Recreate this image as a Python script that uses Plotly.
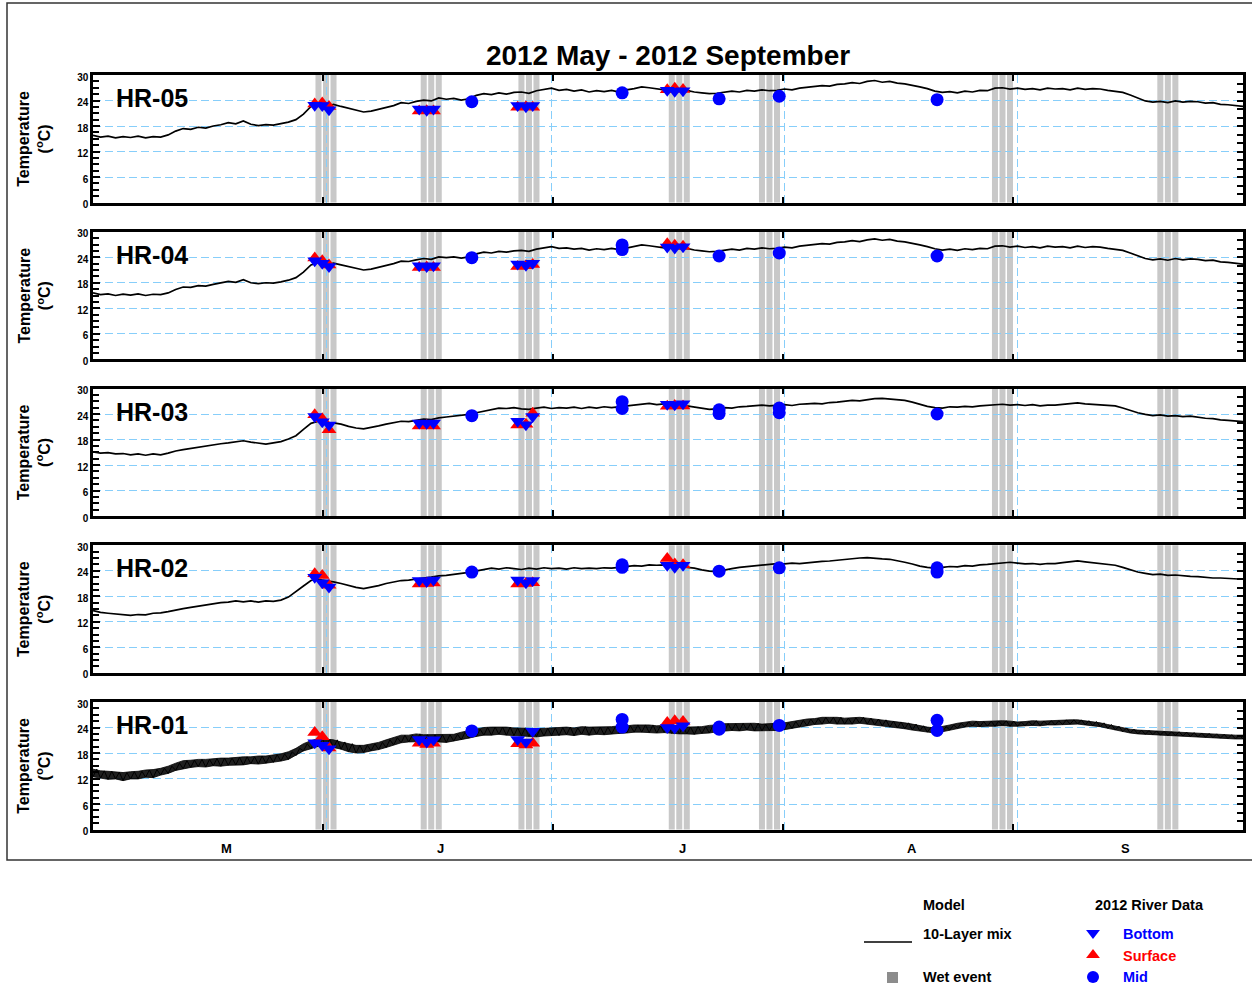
import plotly.graph_objects as go

FONT = "Liberation Sans, Arial, Helvetica, sans-serif"
W, H = 1252, 988

# ---------------------------------------------------------------------------
# Time axis: days since 2012-05-01 00:00 (1 May .. 30 Sep 2012 = 153 days)
# ---------------------------------------------------------------------------
model_days = list(range(154))

# 10-layer mix model, daily water temperature (degC)
hr05_model = [
    15.8, 15.4, 15.6, 15.2, 15.5, 15.3, 15.6, 15.2, 15.5, 15.4,
    15.9, 16.8, 17.4, 17.2, 17.7, 17.5, 18.0, 18.3, 18.8, 18.5,
    19.2, 18.4, 18.1, 18.3, 18.2, 18.5, 18.9, 19.5, 20.8, 22.6,
    23.0, 22.5, 23.1, 22.6, 22.2, 21.7, 21.3, 21.5, 21.9, 22.4,
    22.8, 23.5, 23.3, 23.8, 24.1, 23.9, 24.6, 24.3, 24.5, 24.1,
    24.4, 25.2, 25.6, 25.4, 25.8, 25.5, 25.9, 26.0, 25.7, 26.3,
    26.6, 26.9, 26.4, 26.6, 26.2, 26.5, 26.0, 26.3, 26.1, 26.4,
    26.0, 26.5, 26.8, 27.2, 27.0, 26.8, 26.5, 26.7, 26.3, 26.4,
    26.0, 25.8, 25.6, 25.7, 25.9, 26.2, 26.0, 26.4, 26.2, 26.5,
    26.3, 26.4, 26.7, 26.5, 26.9, 27.1, 27.3, 27.5, 27.4, 27.8,
    27.9, 28.2, 28.0, 28.5, 28.7, 28.3, 28.5, 28.1, 27.9, 27.6,
    27.2, 26.8, 26.2, 25.9, 26.1, 25.8, 26.2, 26.0, 26.4, 26.3,
    26.9, 27.0, 26.7, 26.9, 26.6, 26.8, 26.5, 26.9, 26.7, 26.8,
    26.5, 26.9, 26.6, 26.8, 26.7, 26.4, 26.2, 25.9, 25.3, 24.6,
    23.9, 23.6, 23.8, 23.5, 23.9, 23.6, 23.8, 23.7, 23.4, 23.5,
    23.1, 23.0, 22.8, 22.6,
]
hr04_model = [
    15.6, 15.2, 15.4, 15.0, 15.3, 15.1, 15.4, 15.0, 15.3, 15.2,
    15.6, 16.4, 17.0, 16.9, 17.3, 17.2, 17.6, 17.9, 18.3, 18.1,
    18.7, 18.0, 17.8, 18.0, 17.9, 18.2, 18.6, 19.2, 20.5, 22.2,
    22.7, 22.2, 22.6, 22.2, 21.8, 21.3, 21.0, 21.2, 21.6, 22.0,
    22.5, 23.1, 23.0, 23.4, 23.7, 23.5, 24.1, 23.9, 24.1, 23.8,
    24.1, 24.8, 25.2, 25.0, 25.4, 25.2, 25.5, 25.6, 25.4, 25.9,
    26.2, 26.5, 26.1, 26.2, 25.9, 26.1, 25.7, 26.0, 25.8, 26.1,
    25.8, 26.2, 26.5, 26.9, 26.7, 26.5, 26.2, 26.4, 26.0, 26.1,
    25.7, 25.5, 25.3, 25.4, 25.6, 25.9, 25.7, 26.1, 25.9, 26.2,
    26.0, 26.1, 26.4, 26.2, 26.6, 26.8, 27.0, 27.2, 27.1, 27.5,
    27.6, 27.9, 27.7, 28.1, 28.3, 28.0, 28.2, 27.8, 27.6, 27.3,
    26.9, 26.5, 26.0, 25.7, 25.9, 25.6, 26.0, 25.8, 26.1, 26.0,
    26.6, 26.7, 26.4, 26.6, 26.3, 26.5, 26.2, 26.6, 26.4, 26.5,
    26.2, 26.6, 26.3, 26.5, 26.4, 26.1, 25.9, 25.6, 25.0, 24.3,
    23.7, 23.4, 23.6, 23.3, 23.7, 23.4, 23.6, 23.5, 23.2, 23.3,
    22.9, 22.8, 22.6, 22.4,
]
hr03_model = [
    15.1, 14.8, 14.9, 14.6, 14.7, 14.4, 14.6, 14.3, 14.6, 14.4,
    14.8, 15.3, 15.6, 15.9, 16.1, 16.4, 16.7, 17.0, 17.2, 17.5,
    17.7, 17.4, 17.1, 16.9, 17.2, 17.5, 18.1, 18.9, 20.4, 21.8,
    22.3, 22.0, 21.9, 21.6, 21.1, 20.7, 20.5, 20.8, 21.2, 21.6,
    21.9, 22.3, 22.2, 22.5, 22.8, 22.7, 23.1, 23.3, 23.5, 23.7,
    23.9, 24.3, 24.7, 25.1, 25.4, 25.3, 25.5, 25.2, 25.1, 25.4,
    25.6, 25.3, 25.5, 25.4, 25.6, 25.3, 25.6, 25.4, 25.7, 25.5,
    25.7, 26.0, 26.2, 26.3, 26.5, 26.2, 26.4, 26.1, 26.3, 25.9,
    25.6, 25.3, 25.1, 25.2, 25.5, 25.4, 25.7, 25.8, 25.9, 26.1,
    25.9, 26.1, 26.2, 26.0, 26.3, 26.4, 26.5, 26.4, 26.7, 26.8,
    27.0, 27.2, 27.1, 27.4, 27.6, 27.7, 27.5, 27.4, 27.2, 26.8,
    26.3, 25.8, 25.5, 25.4, 25.7, 25.6, 25.8, 25.7, 25.9, 26.0,
    26.2, 26.3, 26.1, 26.2, 26.0, 26.2, 25.9, 26.1, 26.1, 26.3,
    26.4, 26.6, 26.4, 26.3, 26.2, 26.0, 25.9, 25.4, 24.8, 24.3,
    23.9, 23.6, 23.8, 23.5, 23.6, 23.4, 23.5, 23.2, 23.0, 22.9,
    22.6, 22.5, 22.3, 22.2,
]
hr02_model = [
    14.6, 14.2, 14.0, 13.8, 13.6, 13.5, 13.7, 13.6, 14.0, 14.1,
    14.4, 14.8, 15.1, 15.4, 15.7, 15.9, 16.2, 16.5, 16.6, 16.9,
    16.7, 16.9, 16.6, 16.9, 16.8, 17.1, 17.8, 19.0, 20.4, 21.7,
    22.0, 21.6, 21.4, 21.0, 20.5, 20.1, 19.8, 20.1, 20.5, 21.0,
    21.3, 21.7, 21.8, 22.1, 22.3, 22.5, 22.8, 22.9, 23.2, 23.4,
    23.6, 23.9, 24.3, 24.6, 24.4, 24.7, 24.5, 24.3, 24.6, 24.4,
    24.7, 24.5, 24.6, 24.4, 24.7, 24.5, 24.6, 24.5, 24.7, 24.6,
    24.8, 25.0, 25.2, 25.1, 25.4, 25.3, 25.4, 25.2, 25.0, 24.9,
    24.6, 24.2, 23.9, 23.8, 24.2, 24.5, 24.8, 25.0, 25.2, 25.4,
    25.5, 25.7, 25.6, 25.8, 25.7, 25.9, 26.0, 26.2, 26.3, 26.5,
    26.6, 26.8, 27.0, 27.1, 26.9, 26.8, 26.7, 26.4, 26.0, 25.6,
    25.1, 24.8, 24.6, 24.8, 25.0, 24.9, 25.2, 25.1, 25.4, 25.5,
    25.7, 25.8, 26.0, 25.8, 25.6, 25.7, 25.5, 25.7, 25.7, 25.9,
    26.1, 26.3, 26.1, 25.9, 25.7, 25.5, 25.3, 24.8, 24.2, 23.7,
    23.4, 23.1, 23.2, 22.9, 23.0, 22.8, 22.7, 22.6, 22.4, 22.3,
    22.3, 22.2, 22.1, 22.0,
]
# HR-01 fluctuates strongly within each day: daily low and high
hr01_model_low = [
    12.4, 12.1, 11.8, 11.9, 11.5, 11.9, 11.9, 12.3, 12.2, 12.8,
    13.2, 13.9, 14.3, 14.6, 14.8, 14.7, 15.0, 14.9, 15.1, 15.2,
    15.2, 15.5, 15.4, 15.6, 15.8, 16.1, 16.5, 17.4, 18.5, 19.0,
    19.6, 19.5, 19.3, 18.9, 18.3, 18.0, 18.1, 18.5, 18.8, 19.3,
    19.9, 20.4, 20.6, 20.6, 20.7, 20.5, 20.6, 20.5, 20.8, 21.1,
    21.5, 21.9, 22.2, 22.2, 22.4, 22.2, 22.1, 22.1, 21.9, 21.8,
    22.0, 22.1, 22.1, 22.3, 22.1, 22.4, 22.2, 22.4, 22.3, 22.5,
    22.6, 22.7, 22.9, 22.9, 22.8, 22.7, 22.8, 22.6, 22.5, 22.5,
    22.4, 22.6, 22.7, 23.0, 23.1, 23.3, 23.2, 23.4, 23.2, 23.2,
    23.3, 23.3, 23.5, 23.8, 24.1, 24.4, 24.7, 24.8, 25.0, 24.8,
    24.8, 24.8, 25.0, 24.8, 24.6, 24.4, 24.1, 23.9, 23.7, 23.4,
    23.2, 22.9, 22.7, 23.0, 23.4, 23.8, 24.1, 24.3, 24.2, 24.3,
    24.3, 24.5, 24.3, 24.3, 24.4, 24.5, 24.4, 24.6, 24.6, 24.7,
    24.8, 24.8, 24.6, 24.4, 24.2, 23.8, 23.4, 23.0, 22.7, 22.5,
    22.4, 22.3, 22.2, 22.1, 22.1, 22.0, 21.9, 21.8, 21.7, 21.6,
    21.5, 21.4, 21.3, 21.3,
]
hr01_model_high = [
    14.2, 13.8, 13.7, 13.5, 13.4, 13.6, 13.7, 14.0, 14.1, 14.4,
    14.9, 15.6, 16.2, 16.3, 16.5, 16.5, 16.7, 16.8, 16.8, 17.0,
    17.1, 17.1, 17.3, 17.3, 17.6, 17.8, 18.3, 19.1, 20.2, 20.9,
    21.4, 21.2, 21.1, 20.6, 20.2, 19.8, 19.8, 20.2, 20.5, 21.1,
    21.6, 22.2, 22.2, 22.5, 22.3, 22.3, 22.3, 22.3, 22.4, 22.9,
    23.3, 23.6, 24.0, 24.1, 24.1, 24.1, 23.9, 23.9, 23.8, 23.7,
    23.8, 23.9, 24.0, 24.1, 23.9, 24.2, 24.1, 24.1, 24.1, 24.2,
    24.4, 24.4, 24.6, 24.6, 24.6, 24.4, 24.5, 24.3, 24.3, 24.1,
    24.2, 24.2, 24.5, 24.6, 24.9, 24.9, 25.0, 25.0, 25.0, 24.8,
    24.9, 24.9, 25.1, 25.4, 25.7, 26.0, 26.1, 26.4, 26.4, 26.4,
    26.2, 26.3, 26.4, 26.2, 26.0, 25.8, 25.5, 25.3, 25.1, 24.8,
    24.4, 24.1, 23.9, 24.2, 24.6, 25.0, 25.3, 25.5, 25.4, 25.5,
    25.5, 25.6, 25.5, 25.3, 25.4, 25.6, 25.5, 25.6, 25.6, 25.8,
    25.8, 25.8, 25.6, 25.4, 25.1, 24.7, 24.3, 23.9, 23.6, 23.4,
    23.3, 23.2, 23.1, 23.0, 23.0, 22.9, 22.8, 22.7, 22.6, 22.5,
    22.4, 22.3, 22.2, 22.2,
]

# Wet-event days (days since 1 May)
wet_event_days = [30, 31, 32, 44, 45, 46, 57, 58, 59, 77, 78, 79,
                  89, 90, 91, 120, 121, 122, 142, 143, 144]

# 2012 river sampling: surface / bottom profiles during the survey trips
trip_days = [29.5, 30.5, 31.4, 43.4, 44.4, 45.3, 56.5, 57.6, 58.5, 76.4, 77.4, 78.5]

hr05_surface = [23.2, 23.4, 22.6, 21.5, 21.6, 21.5, 22.4, 22.5, 22.4, 26.5, 26.9, 26.6]
hr05_bottom = [22.9, 22.8, 21.8, 22.0, 21.7, 22.0, 22.8, 22.5, 22.8, 26.4, 26.2, 26.3]
hr04_surface = [23.8, 23.2, 22.2, 21.6, 21.7, 21.6, 21.8, 22.0, 22.3, 27.2, 26.8, 26.6]
hr04_bottom = [23.2, 22.6, 21.8, 22.0, 21.8, 22.0, 22.4, 22.1, 22.6, 26.4, 26.2, 26.5]
hr03_surface = [23.8, 22.9, 20.3, 21.2, 21.3, 21.2, 21.4, 21.6, 24.2, 25.8, 26.0, 25.9]
hr03_bottom = [23.4, 22.2, 21.4, 21.9, 21.8, 21.9, 22.3, 21.5, 23.4, 26.3, 26.2, 26.4]
hr02_surface = [23.3, 22.9, 20.6, 20.9, 21.0, 21.1, 20.9, 21.0, 21.2, 26.9, 25.6, 25.4]
hr02_bottom = [22.5, 21.2, 20.2, 21.7, 21.5, 21.8, 21.8, 21.2, 21.7, 25.3, 24.8, 25.3]
hr01_surface = [22.8, 21.8, 19.2, 20.3, 20.0, 20.3, 20.2, 19.9, 20.3, 25.2, 25.6, 25.4]
hr01_bottom = [20.4, 19.8, 19.0, 21.2, 20.6, 21.1, 21.2, 20.6, 23.1, 24.0, 23.9, 24.4]

# Mid-depth grab samples
hr05_mid_days = [50.4, 70.4, 83.3, 91.3, 112.3]
hr05_mid = [23.7, 25.8, 24.4, 25.0, 24.2]
hr04_mid_days = [50.4, 70.4, 70.4, 83.3, 91.3, 112.3]
hr04_mid = [23.9, 26.9, 25.8, 24.3, 25.0, 24.3]
hr03_mid_days = [50.4, 70.4, 70.4, 83.3, 83.3, 91.3, 91.3, 112.3]
hr03_mid = [23.6, 26.9, 25.3, 25.0, 24.1, 25.4, 24.3, 24.0]
hr02_mid_days = [50.4, 70.4, 70.4, 83.3, 91.3, 112.3, 112.3]
hr02_mid = [23.7, 25.4, 24.8, 23.9, 24.7, 24.7, 23.7]
hr01_mid_days = [50.4, 70.4, 70.4, 83.3, 83.3, 91.3, 112.3, 112.3]
hr01_mid = [23.2, 25.9, 24.1, 24.1, 23.6, 24.5, 25.7, 23.3]

# Axis ticks and labels
month_starts = [31, 61, 92, 123]
frame_ticks = [30.6, 61.2, 91.8, 122.4]
month_labels = ["M", "J", "J", "A", "S"]
month_label_days = [17.8, 46.2, 78.4, 109.0, 137.4]
temp_ticks = [0, 6, 12, 18, 24, 30]

stations = [
    ("HR-05", hr05_model, None, hr05_surface, hr05_bottom, hr05_mid_days, hr05_mid),
    ("HR-04", hr04_model, None, hr04_surface, hr04_bottom, hr04_mid_days, hr04_mid),
    ("HR-03", hr03_model, None, hr03_surface, hr03_bottom, hr03_mid_days, hr03_mid),
    ("HR-02", hr02_model, None, hr02_surface, hr02_bottom, hr02_mid_days, hr02_mid),
    ("HR-01", hr01_model_low, hr01_model_high, hr01_surface, hr01_bottom,
     hr01_mid_days, hr01_mid),
]

# ---------------------------------------------------------------------------
# Page geometry (pixels)
# ---------------------------------------------------------------------------
PLOT_L, PLOT_R = 93, 1243
PANEL_TOP0, PANEL_H, PANEL_STEP = 75, 127.5, 156.75

GRID = "#87CEFA"
DASH = "8px,4px"
BLUE, RED = "#0000FF", "#FF0000"
WET = "#C8C8C8"


def fx(p):
    return p / W


def fy(p):
    return 1 - p / H


def ax_id(letter, n):
    return letter if n == 1 else f"{letter}{n}"


fig = go.Figure()
layout = {}
shapes = []
annotations = []

for k, (name, m_lo, m_hi, surf, bott, mid_d, mid_v) in enumerate(stations):
    i = k + 1
    xa, ya = ax_id("x", i), ax_id("y", i)
    yr = f"y{i + 5}"
    top = PANEL_TOP0 + k * PANEL_STEP
    bot = top + PANEL_H

    if m_hi is None:
        fig.add_trace(go.Scatter(x=model_days, y=m_lo, mode="lines", xaxis=xa, yaxis=ya,
                                 line=dict(color="black", width=1.7), showlegend=False))
    else:
        # noisy station: shade the daily low-high envelope, then trace the swings
        fig.add_trace(go.Scatter(x=model_days, y=m_lo, mode="lines", xaxis=xa, yaxis=ya,
                                 line=dict(color="black", width=0.8), showlegend=False))
        fig.add_trace(go.Scatter(x=model_days, y=m_hi, mode="lines", xaxis=xa, yaxis=ya,
                                 fill="tonexty", fillcolor="rgba(0,0,0,0.88)",
                                 line=dict(color="black", width=0.8), showlegend=False))
        swing_x, swing_y = [], []
        for d, lo, hi in zip(model_days, m_lo, m_hi):
            swing_x += [d, d + 0.5]
            swing_y += [lo, hi]
        fig.add_trace(go.Scatter(x=swing_x, y=swing_y, mode="lines", xaxis=xa, yaxis=ya,
                                 line=dict(color="black", width=1), showlegend=False))
    fig.add_trace(go.Scatter(x=trip_days, y=surf, mode="markers", xaxis=xa, yaxis=ya,
                             marker=dict(symbol="triangle-up", size=13, color=RED,
                                         line=dict(width=0)), showlegend=False))
    fig.add_trace(go.Scatter(x=trip_days, y=bott, mode="markers", xaxis=xa, yaxis=ya,
                             marker=dict(symbol="triangle-down", size=13, color=BLUE,
                                         line=dict(width=0)), showlegend=False))
    fig.add_trace(go.Scatter(x=mid_d, y=mid_v, mode="markers", xaxis=xa, yaxis=ya,
                             marker=dict(symbol="circle", size=13, color=BLUE,
                                         line=dict(width=0)), showlegend=False))
    # placeholder so the right-hand tick axis gets drawn
    fig.add_trace(go.Scatter(x=[None], y=[None], xaxis=xa, yaxis=yr,
                             showlegend=False, hoverinfo="skip"))

    layout["xaxis" if i == 1 else f"xaxis{i}"] = dict(
        domain=[fx(PLOT_L), fx(PLOT_R)], range=[0, 153], anchor=ya,
        showline=True, linecolor="black", linewidth=2.5, mirror="ticks",
        tickmode="array", tickvals=frame_ticks, ticks="inside", ticklen=6,
        tickwidth=2, tickcolor="black", showticklabels=False,
        showgrid=False, zeroline=False,
        minor=dict(tickmode="array", tickvals=month_starts, ticks="",
                   showgrid=True, gridcolor=GRID, griddash=DASH, gridwidth=1.3),
    )
    layout["yaxis" if i == 1 else f"yaxis{i}"] = dict(
        domain=[fy(bot), fy(top)], range=[0, 30], anchor=xa,
        showline=True, linecolor="black", linewidth=2.5,
        tickmode="array", tickvals=temp_ticks, ticktext=[str(t) for t in temp_ticks],
        ticks="inside", ticklen=7, tickwidth=1.5, tickcolor="black",
        ticklabelshift=2,
        tickfont=dict(family=FONT, size=10, color="black", weight="bold"),
        showgrid=True, gridcolor=GRID, griddash=DASH, gridwidth=1.3, zeroline=False,
        minor=dict(dtick=1.5, tick0=0, ticks="inside", ticklen=6, tickwidth=1.5,
                   tickcolor="black", showgrid=False),
    )
    layout[f"yaxis{i + 5}"] = dict(
        range=[0, 30], overlaying=ya, side="right", anchor=xa,
        showline=True, linecolor="black", linewidth=2.5,
        tickmode="linear", tick0=0, dtick=2, ticks="inside", ticklen=6,
        tickwidth=1.5, tickcolor="black", showticklabels=False,
        showgrid=False, zeroline=False,
    )

    for d in wet_event_days:
        shapes.append(dict(type="rect", xref=xa, yref=f"{ya} domain",
                           x0=d - 0.4, x1=d + 0.4, y0=0, y1=1,
                           fillcolor=WET, line=dict(width=0), layer="below"))

    annotations.append(dict(text=name, xref="paper", yref="paper",
                            x=fx(114), y=fy(top + 23), xanchor="left", yanchor="middle",
                            showarrow=False,
                            font=dict(family=FONT, size=25, color="black", weight="bold")))
    annotations.append(dict(text="Temperature<br>(<sup>o</sup>C)", xref="paper", yref="paper",
                            x=fx(34), y=fy((top + bot) / 2), xanchor="center",
                            yanchor="middle", textangle=-90, showarrow=False,
                            font=dict(family=FONT, size=16, color="black", weight="bold")))

# month letters under the bottom panel
for lab, d in zip(month_labels, month_label_days):
    annotations.append(dict(text=lab, xref="x5", yref="paper", x=d, y=fy(848),
                            xanchor="center", yanchor="middle", showarrow=False,
                            font=dict(family=FONT, size=13, color="black", weight="bold")))

# outer frame
shapes.append(dict(type="rect", xref="paper", yref="paper",
                   x0=fx(7), x1=1.02, y0=fy(860), y1=fy(3),
                   line=dict(color="#333333", width=1.5), fillcolor="rgba(0,0,0,0)"))

# ---------------------------------------------------------------------------
# Key
# ---------------------------------------------------------------------------
def key_text(text, x, y, color="black"):
    annotations.append(dict(text=text, xref="paper", yref="paper", x=fx(x), y=fy(y),
                            xanchor="left", yanchor="middle", showarrow=False,
                            font=dict(family=FONT, size=14.5, color=color, weight="bold")))


key_text("Model", 921, 905)
key_text("2012 River Data", 1093, 905)
key_text("10-Layer mix", 921, 934)
key_text("Wet event", 921, 977)
key_text("Bottom", 1121, 934, BLUE)
key_text("Surface", 1121, 956, RED)
key_text("Mid", 1121, 977, BLUE)

shapes.append(dict(type="line", xref="paper", yref="paper", x0=fx(864), x1=fx(912),
                   y0=fy(942), y1=fy(942), line=dict(color="black", width=1.5)))
shapes.append(dict(type="rect", xref="paper", yref="paper", x0=fx(887), x1=fx(898),
                   y0=fy(983), y1=fy(972), fillcolor="#8C8C8C", line=dict(width=0)))

# key symbols live on an invisible full-page pixel axis pair
key_sym = ["triangle-down", "triangle-up", "circle"]
key_col = [BLUE, RED, BLUE]
key_y = [933, 955, 977]
for s, c, yy in zip(key_sym, key_col, key_y):
    fig.add_trace(go.Scatter(x=[1093], y=[yy], mode="markers", xaxis="x6", yaxis="y11",
                             marker=dict(symbol=s, size=12, color=c, line=dict(width=0)),
                             showlegend=False, cliponaxis=False, hoverinfo="skip"))
layout["xaxis6"] = dict(domain=[0, 1], range=[0, W], anchor="y11", visible=False)
layout["yaxis11"] = dict(domain=[0, 1], range=[H, 0], anchor="x6", visible=False)

fig.update_layout(
    width=W, height=H,
    margin=dict(l=0, r=0, t=0, b=0, pad=0, autoexpand=False),
    paper_bgcolor="white", plot_bgcolor="rgba(0,0,0,0)",
    showlegend=False,
    title=dict(text="2012 May - 2012 September", x=fx(668), xanchor="center",
               y=fy(55), yanchor="middle",
               font=dict(family=FONT, size=28, color="black", weight="bold")),
    shapes=shapes, annotations=annotations,
    **layout,
)

fig.write_html("out.html")
